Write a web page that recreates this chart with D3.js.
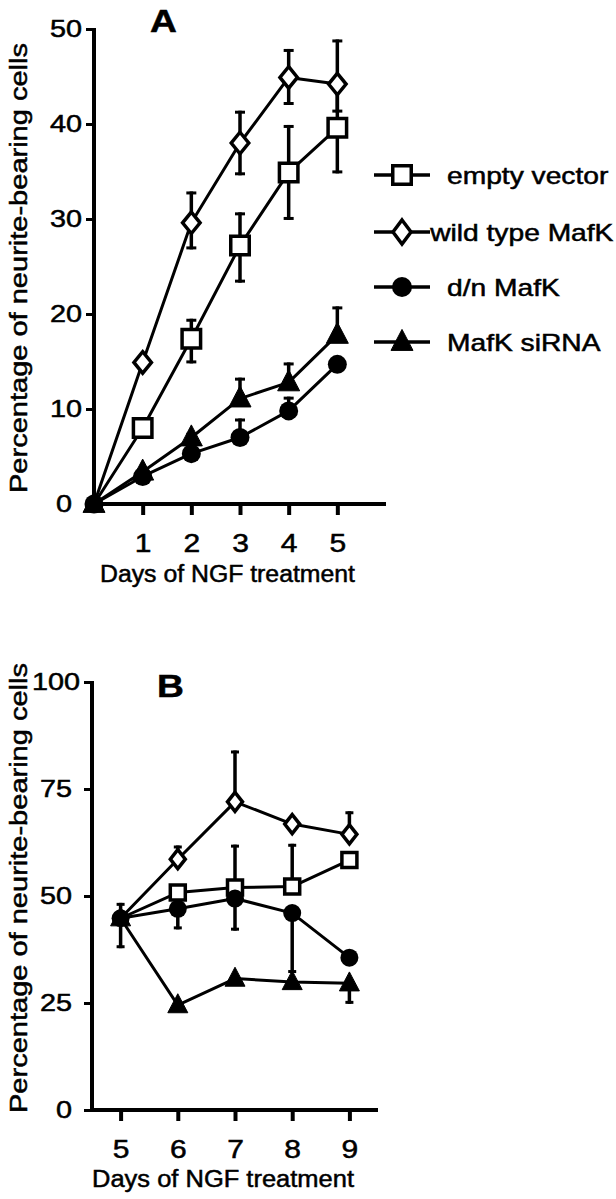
<!DOCTYPE html>
<html><head><meta charset="utf-8">
<script src="https://cdn.jsdelivr.net/npm/d3@7/dist/d3.min.js"></script>
<style>
html,body{margin:0;padding:0;background:#fff;}
svg{display:block;}
text{font-family:"Liberation Sans",Arial,sans-serif;fill:#000;stroke:#000;stroke-width:0.5px;}
.sx{transform-box:fill-box;transform:scaleX(1.2);}
.sxr{transform-box:fill-box;transform-origin:right center;transform:scaleX(1.2);}
.sxc{transform-box:fill-box;transform-origin:center;transform:scaleX(1.2);}
</style></head>
<body>
<svg id="chart" width="616" height="1199"></svg>
<script>
// ---------- data ----------
const seriesNames = ["empty vector", "wild type MafK", "d/n MafK", "MafK siRNA"];
const seriesShapes = ["square", "diamond", "circle", "triangle"];

// Panel A
const daysA = [0, 1, 2, 3, 4, 5];
const emptyA = [0, 8.0, 17.4, 27.2, 34.9, 39.6];
const wildA  = [0, 14.9, 29.6, 38.0, 44.9, 44.2];
const dnA    = [0, 2.9, 5.3, 7.0, 9.8, 14.7];
const siA    = [0, 3.4, 7.0, 11.1, 12.8, 17.8];
const emptyUpA = [0, 0.5, 2.1, 3.5, 5.0, 4.8];
const emptyDnA = [0, 0.5, 2.6, 3.9, 5.0, 4.8];
const wildUpA  = [0, 0.5, 3.3, 3.4, 3.0, 4.7];
const wildDnA  = [0, 0.5, 2.8, 3.4, 2.9, 3.0];
const dnUpA    = [0, 0, 0.4, 2.0, 1.5, 0.5];
const dnDnA    = [0, 0, 0, 0, 0, 0];
const siUpA    = [0, 0.4, 0.5, 2.2, 2.1, 3.0];
const siDnA    = [0, 0, 0, 0, 0, 0];
const yTicksA = [0, 10, 20, 30, 40, 50];
const xTicksA = [1, 2, 3, 4, 5];

// Panel B
const daysB = [5, 6, 7, 8, 9];
const emptyB = [44.8, 50.8, 52.0, 52.2, 58.4];
const wildB  = [44.8, 58.6, 72.0, 66.8, 64.4];
const dnB    = [44.8, 47.0, 49.4, 46.0, 35.6];
const siB    = [44.8, 24.5, 30.7, 29.9, 29.6];
const emptyUpB = [0, 1.5, 10, 10, 1.5];
const emptyDnB = [0, 0, 0, 0, 0];
const wildUpB  = [0, 3.2, 12, 1.5, 5.4];
const wildDnB  = [0, 0, 0, 0, 0];
const dnUpB    = [3.6, 0, 0, 0, 0];
const dnDnB    = [0, 4.8, 7.5, 14, 0];
const siUpB    = [0, 0, 0, 0, 0];
const siDnB    = [7, 0, 0, 0, 4.8];
const yTicksB = [0, 25, 50, 75, 100];
const xTicksB = [5, 6, 7, 8, 9];

const xTitle = "Days of NGF treatment";
const yTitle = "Percentage of neurite-bearing cells";

// ---------- drawing ----------
const svg = d3.select("#chart");

function markerPath(shape, s) {
  if (shape === "square") { const h = s.sq / 2; return `M${-h},${-h}H${h}V${h}H${-h}Z`; }
  if (shape === "diamond") { const w = s.dw / 2, h = s.dh / 2; return `M0,${-h}L${w},0L0,${h}L${-w},0Z`; }
  if (shape === "triangle") { const w = s.tw / 2, h = s.th; return `M0,${-h * 0.6}L${w},${h * 0.4}L${-w},${h * 0.4}Z`; }
  return null;
}
function drawMarker(g, shape, x, y, s) {
  if (shape === "circle") {
    g.append("circle").attr("cx", x).attr("cy", y).attr("r", s.cr).attr("fill", "#000");
  } else {
    const filled = shape === "triangle";
    g.append("path").attr("d", markerPath(shape, s))
      .attr("transform", `translate(${x},${y})`)
      .attr("fill", filled ? "#000" : "#fff")
      .attr("stroke", "#000").attr("stroke-width", filled ? 1 : 3.5)
      .attr("stroke-linejoin", "miter");
  }
}

function drawPanel(cfg) {
  const g = svg.append("g");
  const x = d3.scaleLinear().domain(cfg.xDomain).range(cfg.xRange);
  const y = d3.scaleLinear().domain(cfg.yDomain).range(cfg.yRange);

  // axes
  const yAxis = d3.axisLeft(y).tickValues(cfg.yTicks).tickSize(8).tickPadding(6).tickFormat(d3.format("d"));
  const gy = g.append("g").attr("transform", `translate(${cfg.xRange[0]},0)`).call(yAxis);
  gy.select(".domain").attr("d", `M0,${cfg.yRange[1] - 1}V${cfg.yRange[0] + 2}`).attr("stroke-width", 4);
  gy.selectAll(".tick line").attr("stroke-width", 3);
  gy.selectAll(".tick text").attr("font-size", 24).attr("class", "sxr")
    .attr("font-family", '"Liberation Sans",Arial,sans-serif').attr("fill", "#000")
    .attr("x", d => cfg.yLabelX(d));
  const xAxis = d3.axisBottom(x).tickValues(cfg.xTicks).tickSize(11).tickPadding(19).tickFormat(d3.format("d"));
  const gx = g.append("g").attr("transform", `translate(0,${cfg.yRange[0]})`).call(xAxis);
  gx.select(".domain").attr("d", `M${cfg.xRange[0] - 2},0H${cfg.xRange[1]}`).attr("stroke-width", 4);
  gx.selectAll(".tick line").attr("stroke-width", 4).attr("y1", 2);
  gx.selectAll(".tick text").attr("font-size", 25).attr("class", "sxc")
    .attr("font-family", '"Liberation Sans",Arial,sans-serif').attr("fill", "#000");

  // titles
  g.append("text").attr("x", cfg.xTitleX).attr("y", cfg.xTitleY)
    .attr("font-size", 23.5).attr("textLength", cfg.xTitleLen).attr("lengthAdjust", "spacingAndGlyphs")
    .text(xTitle);
  g.append("text").attr("transform", `translate(${cfg.yTitleX},${cfg.yTitleY}) rotate(-90)`)
    .attr("font-size", 23.5).attr("text-anchor", "middle")
    .attr("textLength", 450).attr("lengthAdjust", "spacingAndGlyphs")
    .text(yTitle);
  g.append("text").attr("x", cfg.letterX).attr("y", cfg.letterY).attr("font-size", 31)
    .attr("font-weight", "bold").attr("class", "sx").style("transform-origin", "left center")
    .text(cfg.letter);

  // series lines
  const line = d3.line().x(d => x(d.x)).y(d => y(d.y));
  cfg.series.forEach(s => {
    const pts = cfg.days.map((d, i) => ({ x: d, y: s.v[i] }));
    g.append("path").datum(pts).attr("d", line).attr("fill", "none")
      .attr("stroke", "#000").attr("stroke-width", 3).attr("stroke-linejoin", "round");
  });
  // error bars
  cfg.series.forEach(s => {
    cfg.days.forEach((d, i) => {
      const px = x(d), v = s.v[i];
      if (s.up[i] > 0) {
        g.append("line").attr("x1", px).attr("x2", px).attr("y1", y(v)).attr("y2", y(v + s.up[i]))
          .attr("stroke", "#000").attr("stroke-width", 3.5);
        g.append("line").attr("x1", px - cfg.cap).attr("x2", px + cfg.cap)
          .attr("y1", y(v + s.up[i]) + 1.5).attr("y2", y(v + s.up[i]) + 1.5)
          .attr("stroke", "#000").attr("stroke-width", 3);
      }
      if (s.dn[i] > 0) {
        g.append("line").attr("x1", px).attr("x2", px).attr("y1", y(v)).attr("y2", y(v - s.dn[i]))
          .attr("stroke", "#000").attr("stroke-width", 3.5);
        g.append("line").attr("x1", px - cfg.cap).attr("x2", px + cfg.cap)
          .attr("y1", y(v - s.dn[i]) - 1.5).attr("y2", y(v - s.dn[i]) - 1.5)
          .attr("stroke", "#000").attr("stroke-width", 3);
      }
    });
  });
  // markers (open markers hidden at the shared starting point)
  cfg.series.forEach((s, si) => {
    const shape = seriesShapes[si];
    cfg.days.forEach((d, i) => {
      if (i === 0 && (shape === "square" || shape === "diamond")) return;
      drawMarker(g, shape, x(d), y(s.v[i]), cfg.ms);
    });
  });
}

drawPanel({
  xDomain: [0, 6], xRange: [94, 386], yDomain: [0, 50], yRange: [504, 29],
  yTicks: yTicksA, xTicks: xTicksA, cap: 5,
  yLabelX: d => d === 0 ? -22 : -12,
  days: daysA,
  series: [
    { v: emptyA, up: emptyUpA, dn: emptyDnA },
    { v: wildA, up: wildUpA, dn: wildDnA },
    { v: dnA, up: dnUpA, dn: dnDnA },
    { v: siA, up: siUpA, dn: siDnA }
  ],
  ms: { sq: 18.5, dw: 17.5, dh: 21.5, cr: 9.5, tw: 22, th: 21 },
  xTitleX: 100, xTitleY: 582, xTitleLen: 255,
  yTitleX: 27, yTitleY: 268,
  letter: "A", letterX: 150, letterY: 32
});

drawPanel({
  xDomain: [4.5, 9.5], xRange: [92, 378], yDomain: [0, 100], yRange: [1110, 682],
  yTicks: yTicksB, xTicks: xTicksB, cap: 4,
  yLabelX: d => d === 100 ? -12 : -20,
  days: daysB,
  series: [
    { v: emptyB, up: emptyUpB, dn: emptyDnB },
    { v: wildB, up: wildUpB, dn: wildDnB },
    { v: dnB, up: dnUpB, dn: dnDnB },
    { v: siB, up: siUpB, dn: siDnB }
  ],
  ms: { sq: 15, dw: 15, dh: 19, cr: 9, tw: 20, th: 19 },
  xTitleX: 92, xTitleY: 1187, xTitleLen: 262,
  yTitleX: 27, yTitleY: 888,
  letter: "B", letterX: 157, letterY: 697
});

// legend (panel A)
const legendRows = [175, 232, 287, 342];
const legendTextX = [447, 430, 447, 447];
const lg = svg.append("g");
const legMs = { sq: 18.5, dw: 18, dh: 24, cr: 10, tw: 22, th: 21 };
seriesNames.forEach((name, i) => {
  const yy = legendRows[i];
  lg.append("line").attr("x1", 374).attr("x2", 430).attr("y1", yy).attr("y2", yy)
    .attr("stroke", "#000").attr("stroke-width", 3.5);
  drawMarker(lg, seriesShapes[i], 402, yy, legMs);
  lg.append("text").attr("x", legendTextX[i]).attr("y", yy + 9).attr("font-size", 23.5)
    .attr("class", "sx").style("transform-origin", "left center").text(name);
});
</script>
</body></html>
